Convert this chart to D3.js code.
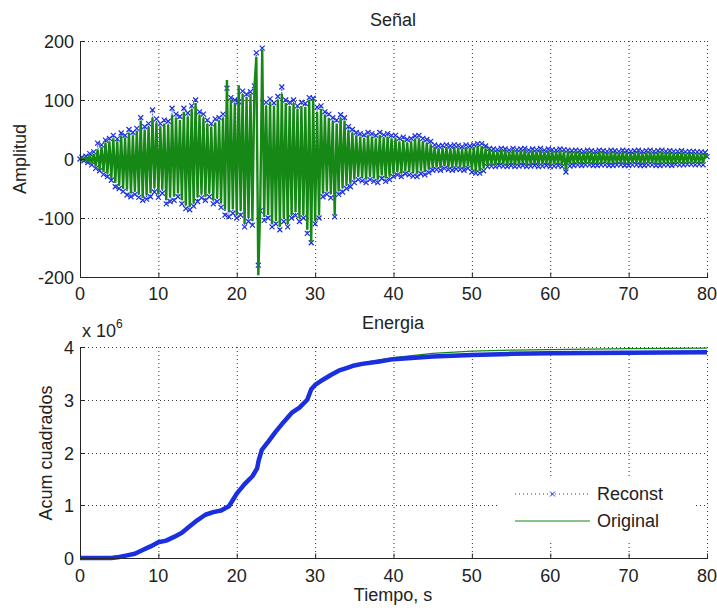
<!DOCTYPE html>
<html>
<head>
<meta charset="utf-8">
<script src="https://cdn.jsdelivr.net/npm/d3@7"></script>
<style>
body { margin: 0; background: #fff; }
text { font-family: "Liberation Sans", Arial, sans-serif; font-size: 18px; fill: #222; }
</style>
</head>
<body>
<script>
// sample step of the signal arrays, seconds
var dt = 0.25;

// Señal - original (green), 4 values per second, 0..80 s (one row = 5 s)
var original = [
  0, 2, -2, 3, -4, 6, -7, 8, -12, 16, -17, 20, -22, 28, -25, 30, -32, 35, -40, 30,
  -45, 40, -50, 36, -52, 45, -58, 40, -55, 48, -60, 65, -66, 50, -62, 55, -58, 70, -50, 62,
  -60, 55, -52, 60, -70, 58, -65, 75, -64, 70, -58, 66, -70, 80, -78, 72, -81, 85, -75, 95,
  -65, 75, -60, 70, -64, 60, -58, 55, -70, 62, -66, 65, -75, 70, -86, 134, -90, 100, -85, 95,
  -95, 125, -88, 110, -110, 105, -100, 110, -105, 120, 173, -197, -80, 185, -98, 90, -95, 97, -110, 90,
  -105, 100, -115, 110, -100, 95, -110, 90, -95, 95, -90, 85, -100, 90, -95, 88, -120, 100, -140, 100,
  -105, 80, -95, 85, -58, 75, -55, 70, -60, 65, -95, 60, -55, 70, -50, 65, -45, 50, -42, 45,
  -35, 40, -30, 38, -32, 36, -35, 40, -30, 38, -33, 35, -35, 40, -28, 36, -33, 38, -30, 35,
  -25, 35, -22, 30, -25, 32, -20, 28, -22, 30, -24, 34, -25, 35, -20, 30, -22, 28, -18, 25,
  -15, 20, -14, 18, -15, 19, -12, 20, -14, 18, -15, 20, -13, 19, -14, 17, -15, 20, -12, 18,
  -18, 20, -20, 22, -20, 22, -16, 18, -10, 15, -9, 14, -10, 13, -8, 15, -9, 14, -10, 12,
  -8, 15, -10, 13, -9, 14, -8, 15, -10, 12, -9, 14, -8, 13, -10, 15, -9, 12, -8, 14,
  -10, 13, -9, 12, -8, 14, -10, 13, -19, 12, -9, 11, -8, 12, -7, 11, -8, 10, -7, 12,
  -7, 11, -8, 10, -8, 12, -7, 11, -7, 10, -8, 12, -8, 11, -7, 10, -7, 12, -8, 11,
  -8, 10, -7, 11, -7, 12, -8, 10, -8, 11, -7, 12, -7, 10, -8, 11, -8, 12, -7, 10,
  -7, 11, -8, 10, -6, 10, -7, 11, -7, 9, -6, 10, -6, 10, -7, 9, -6, 9, -7, 8,
  2
];

// Señal - reconst (blue dotted, x markers)
var reconst = [
  0, 3, -3, 5, -6, 9, -10, 12, -16, 27, -20, 24, -26, 32, -30, 35, -36, 40, -47, 34,
  -50, 44, -55, 40, -61, 50, -64, 45, -60, 52, -65, 70, -70, 55, -68, 60, -64, 83, -56, 68,
  -65, 60, -58, 66, -76, 64, -72, 86, -70, 76, -64, 72, -76, 86, -84, 78, -86, 90, -80, 100,
  -72, 80, -66, 76, -70, 66, -64, 60, -76, 68, -72, 70, -82, 76, -95, 120, -98, 104, -92, 100,
  -100, 97, -95, 115, -115, 110, -106, 114, -112, 124, 180, -180, -88, 188, -104, 96, -100, 102, -115, 95,
  -110, 106, -120, 122, -106, 100, -115, 96, -100, 100, -96, 90, -106, 96, -100, 94, -126, 104, -142, 103,
  -110, 88, -100, 90, -64, 80, -60, 76, -66, 70, -98, 66, -60, 75, -56, 70, -50, 55, -47, 50,
  -40, 45, -35, 43, -37, 41, -40, 45, -35, 43, -38, 40, -40, 45, -33, 41, -38, 43, -35, 40,
  -30, 40, -27, 35, -30, 37, -25, 33, -27, 35, -29, 39, -30, 40, -25, 35, -27, 33, -23, 30,
  -19, 24, -18, 22, -19, 23, -16, 24, -18, 22, -19, 24, -17, 23, -18, 21, -19, 24, -16, 22,
  -22, 24, -24, 26, -24, 26, -20, 22, -13, 18, -12, 17, -13, 16, -11, 18, -12, 17, -13, 15,
  -11, 18, -13, 16, -12, 17, -11, 18, -13, 15, -12, 17, -11, 16, -13, 18, -12, 15, -11, 17,
  -13, 16, -12, 15, -11, 17, -13, 16, -22, 15, -12, 14, -11, 15, -10, 14, -11, 13, -10, 15,
  -10, 14, -11, 13, -11, 15, -10, 14, -10, 13, -11, 15, -11, 14, -10, 13, -10, 15, -11, 14,
  -11, 13, -10, 14, -10, 15, -11, 13, -11, 14, -10, 15, -10, 13, -11, 14, -11, 15, -10, 13,
  -10, 14, -11, 13, -9, 13, -10, 14, -10, 12, -9, 13, -9, 13, -10, 12, -9, 12, -10, 11,
  4
];

// Energia - cumulative squares, x 10^6
var energyT = [0, 4, 5, 6, 7, 8, 9, 10, 11, 12, 13, 14, 15, 16, 17, 18, 19, 19.5, 20, 21, 22, 22.6, 22.8, 23.2,
  24, 25, 26, 27, 28, 29, 29.5, 30, 31, 32, 33, 34, 35, 36, 38, 40, 45, 50, 55, 60, 70, 80];
var energyReconst = [0, 0, 0.02, 0.05, 0.08, 0.15, 0.22, 0.3, 0.33, 0.4, 0.48, 0.6, 0.72, 0.82, 0.87, 0.9, 0.98, 1.1, 1.22, 1.4, 1.55, 1.7, 1.85, 2.05,
  2.2, 2.4, 2.58, 2.75, 2.85, 3.0, 3.2, 3.28, 3.38, 3.47, 3.55, 3.6, 3.65, 3.68, 3.72, 3.77, 3.82, 3.85, 3.87, 3.88, 3.89, 3.9];
var energyOriginal = [0, 0, 0.02, 0.05, 0.08, 0.15, 0.22, 0.3, 0.33, 0.4, 0.48, 0.6, 0.72, 0.82, 0.87, 0.9, 0.98, 1.1, 1.22, 1.4, 1.55, 1.7, 1.85, 2.05,
  2.2, 2.4, 2.58, 2.75, 2.85, 3.0, 3.2, 3.28, 3.38, 3.47, 3.55, 3.61, 3.66, 3.7, 3.75, 3.8, 3.88, 3.92, 3.94, 3.95, 3.97, 3.98];

var xTicks = [0, 10, 20, 30, 40, 50, 60, 70, 80];
var signalTicks = [-200, -100, 0, 100, 200];
var energyTicks = [0, 1, 2, 3, 4];

var blue = "#1a2fe0", green = "#168816", axisColor = "#262626";

var svg = d3.select("body")
  .append("svg")
    .attr("width", 717)
    .attr("height", 613);

var x = d3.scaleLinear().domain([0, 80]).range([80, 707]);
var ySig = d3.scaleLinear().domain([-200, 200]).range([277, 41]);
var yEn = d3.scaleLinear().domain([0, 4]).range([558, 347]);

// grid lines (dotted), under the data
function drawGrid(y, yTicks) {
  var g = svg.append("g").attr("stroke", "#333").attr("stroke-width", 1).attr("stroke-dasharray", "1,3");
  xTicks.slice(1).forEach(function(t) {
    g.append("line").attr("x1", x(t) + 0.5).attr("x2", x(t) + 0.5)
      .attr("y1", y.range()[1]).attr("y2", y.range()[0]);
  });
  yTicks.slice(1).forEach(function(t) {
    g.append("line").attr("x1", x(0)).attr("x2", x(80))
      .attr("y1", Math.round(y(t)) + 0.5).attr("y2", Math.round(y(t)) + 0.5);
  });
}

// solid left/bottom axes with inward ticks and labels
function drawAxes(y, yTicks, labelY) {
  var g = svg.append("g");
  var bottom = Math.round(y.range()[0]) + 0.5;
  var top = y.range()[1];
  g.append("line").attr("x1", x(0) + 0.5).attr("x2", x(0) + 0.5).attr("y1", top).attr("y2", bottom)
    .attr("stroke", axisColor);
  g.append("line").attr("x1", x(0)).attr("x2", x(80) + 1).attr("y1", bottom).attr("y2", bottom)
    .attr("stroke", axisColor);
  xTicks.forEach(function(t) {
    g.append("line").attr("x1", x(t) + 0.5).attr("x2", x(t) + 0.5).attr("y1", bottom).attr("y2", bottom - 5)
      .attr("stroke", axisColor);
    g.append("text").attr("x", x(t)).attr("y", labelY).attr("text-anchor", "middle").text(t);
  });
  yTicks.forEach(function(t) {
    var yy = Math.round(y(t)) + 0.5;
    g.append("line").attr("x1", x(0)).attr("x2", x(0) + 5).attr("y1", yy).attr("y2", yy)
      .attr("stroke", axisColor);
    g.append("text").attr("x", 74).attr("y", yy).attr("dy", "0.36em").attr("text-anchor", "end").text(t);
  });
}

// ---- Señal ----
drawGrid(ySig, signalTicks);

var sigLine = d3.line()
  .x(function(d, i) { return x(i * dt); })
  .y(function(d) { return ySig(d); });

svg.append("path")
  .datum(reconst)
  .attr("d", sigLine)
  .attr("fill", "none")
  .attr("stroke", blue)
  .attr("stroke-width", 1)
  .attr("stroke-dasharray", "1,2");

svg.append("g").selectAll("path")
  .data(reconst)
  .enter()
  .append("path")
    .attr("d", d3.symbol().type(d3.symbolX).size(18))
    .attr("transform", function(d, i) { return "translate(" + x(i * dt) + "," + ySig(d) + ")"; })
    .attr("fill", "none")
    .attr("stroke", blue)
    .attr("stroke-width", 1.2);

svg.append("path")
  .datum(original)
  .attr("d", sigLine)
  .attr("fill", "none")
  .attr("stroke", green)
  .attr("stroke-width", 2.4)
  .attr("stroke-linejoin", "bevel");

drawAxes(ySig, signalTicks, 300);

// ---- Energia ----
drawGrid(yEn, energyTicks);

var enLine = d3.line()
  .x(function(d, i) { return x(energyT[i]); })
  .y(function(d) { return yEn(d); });

svg.append("path")
  .datum(energyOriginal)
  .attr("d", enLine)
  .attr("fill", "none")
  .attr("stroke", green)
  .attr("stroke-width", 1.2);

svg.append("path")
  .datum(energyReconst)
  .attr("d", enLine)
  .attr("fill", "none")
  .attr("stroke", blue)
  .attr("stroke-width", 4.5)
  .attr("stroke-linejoin", "round");

drawAxes(yEn, energyTicks, 582);

// ---- labels ----
var labels = svg.append("g");

labels.append("text").attr("x", 393).attr("y", 26).attr("text-anchor", "middle").text("Señal");
labels.append("text").attr("x", 393).attr("y", 329).attr("text-anchor", "middle").text("Energia");
labels.append("text").attr("x", 393).attr("y", 601).attr("text-anchor", "middle").text("Tiempo, s");

labels.append("text")
  .attr("text-anchor", "middle")
  .attr("transform", "translate(26,159) rotate(-90)")
  .text("Amplitud");
labels.append("text")
  .attr("text-anchor", "middle")
  .attr("transform", "translate(52,453) rotate(-90)")
  .text("Acum cuadrados");

var mult = labels.append("text").attr("x", 82).attr("y", 337);
mult.append("tspan").text("x 10");
mult.append("tspan").attr("dy", -9).style("font-size", "12px").text("6");

// ---- legend ----
var legend = svg.append("g");
legend.append("rect").attr("x", 500).attr("y", 477).attr("width", 193).attr("height", 64).attr("fill", "#fff");
legend.append("line").attr("x1", 515).attr("x2", 590).attr("y1", 494).attr("y2", 494)
  .attr("stroke", blue).attr("stroke-dasharray", "1,3");
legend.append("path")
  .attr("d", d3.symbol().type(d3.symbolX).size(18))
  .attr("transform", "translate(552.5,494)")
  .attr("fill", "none").attr("stroke", blue);
legend.append("line").attr("x1", 515).attr("x2", 590).attr("y1", 521).attr("y2", 521)
  .attr("stroke", green).attr("stroke-width", 1.2);
legend.append("text").attr("x", 597).attr("y", 494).attr("dy", "0.36em").text("Reconst");
legend.append("text").attr("x", 597).attr("y", 521).attr("dy", "0.36em").text("Original");
</script>
</body>
</html>
